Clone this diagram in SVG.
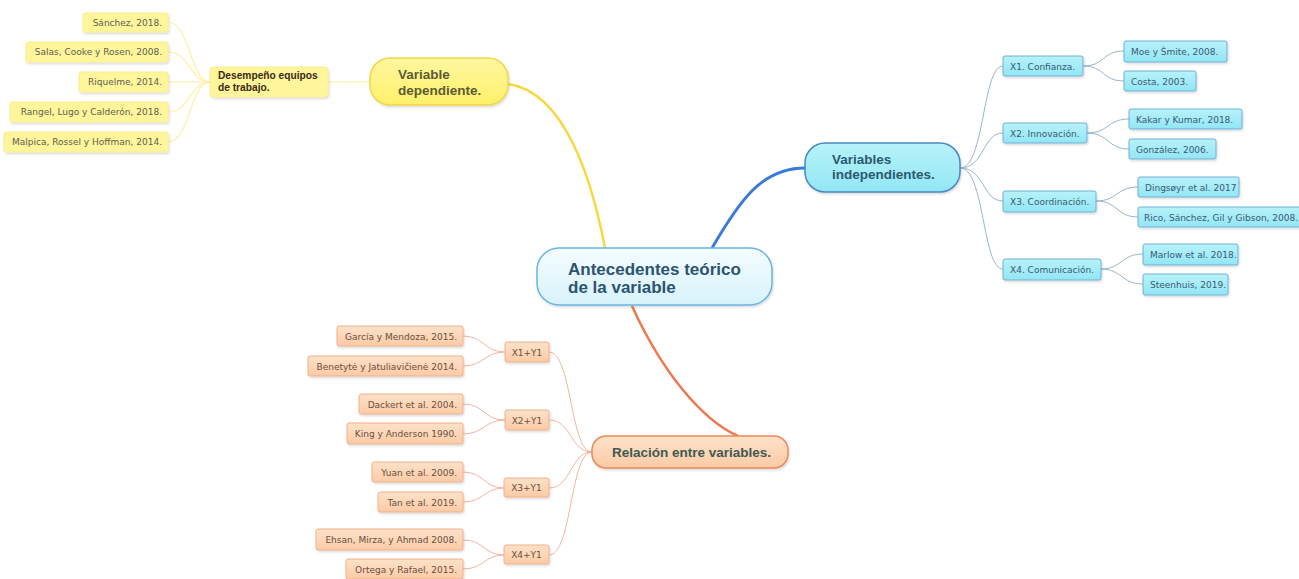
<svg xmlns="http://www.w3.org/2000/svg" width="1299" height="579" viewBox="0 0 1299 579">
<defs>
<linearGradient id="gc" x1="0" y1="0" x2="0" y2="1"><stop offset="0" stop-color="#f4fcff"/><stop offset="1" stop-color="#d8f3fb"/></linearGradient>
<linearGradient id="gy" x1="0" y1="0" x2="0" y2="1"><stop offset="0" stop-color="#fff7a0"/><stop offset="1" stop-color="#fff06a"/></linearGradient>
<linearGradient id="gb" x1="0" y1="0" x2="0" y2="1"><stop offset="0" stop-color="#b8f2fa"/><stop offset="1" stop-color="#92e6f4"/></linearGradient>
<linearGradient id="go" x1="0" y1="0" x2="0" y2="1"><stop offset="0" stop-color="#fde2c8"/><stop offset="1" stop-color="#fccaa6"/></linearGradient>
<filter id="sh" x="-10%" y="-20%" width="130%" height="160%"><feDropShadow dx="1" dy="1.5" stdDeviation="1" flood-color="#000" flood-opacity="0.15"/></filter>
</defs>
<style>
text{font-family:"DejaVu Sans","Liberation Sans",sans-serif}
.lf{font-size:9px}
.big{font-family:"Liberation Sans",Arial,sans-serif;font-weight:bold;font-size:13.5px}
.yl rect{fill:#fff59a;stroke:#fbee90;stroke-width:1}
.yl text{fill:#606050}
.bl rect{fill:url(#gb);stroke:#70b0d8;stroke-width:1}
.bl text{fill:#3a5a74}
.ol rect{fill:url(#go);stroke:#f2b08c;stroke-width:1}
.ol text{fill:#6a5044}
.c path{fill:none}
.cy{stroke:#fff0a0;stroke-width:1.2}
.cb{stroke:#9ab4c8;stroke-width:1}
.co{stroke:#f2b4a4;stroke-width:1}
</style>

<g id="connectors" class="c">
<path d="M508,84 C565,92 592,180 605,248" stroke="#f8d840" stroke-width="2.5"/>
<path d="M712,248 C740,200 762,168 805,168" stroke="#3a7ad8" stroke-width="3"/>
<path d="M632,306 C662,372 702,420 738,436" stroke="#f07850" stroke-width="2.5"/>
<path d="M328,82 L370,82" class="cy"/>
<path d="M168,22 C190,22 190,82 210,82" class="cy"/>
<path d="M168,52 C190,52 190,82 210,82" class="cy"/>
<path d="M168,82 L210,82" class="cy"/>
<path d="M168,112 C190,112 190,82 210,82" class="cy"/>
<path d="M168,142 C190,142 190,82 210,82" class="cy"/>
<path d="M960,168 C985,168 982,66 1003,66" class="cb"/>
<path d="M960,168 C985,168 982,133 1003,133" class="cb"/>
<path d="M960,168 C985,168 982,201 1003,201" class="cb"/>
<path d="M960,168 C985,168 982,269 1003,269" class="cb"/>
<path d="M1083,66 C1105,66 1102,51 1124,51" class="cb"/>
<path d="M1083,66 C1105,66 1102,81 1124,81" class="cb"/>
<path d="M1087,133 C1109,133 1107,119 1129,119" class="cb"/>
<path d="M1087,133 C1109,133 1107,149 1129,149" class="cb"/>
<path d="M1096,201 C1118,201 1116,187 1138,187" class="cb"/>
<path d="M1096,201 C1118,201 1116,217 1138,217" class="cb"/>
<path d="M1101,269 C1122,269 1121,254 1143,254" class="cb"/>
<path d="M1101,269 C1122,269 1121,284 1143,284" class="cb"/>
<path d="M592,452 C570,452 572,352 549,352" class="co"/>
<path d="M592,452 C570,452 572,420 549,420" class="co"/>
<path d="M592,452 C570,452 572,488 549,488" class="co"/>
<path d="M592,452 C570,452 572,555 549,555" class="co"/>
<path d="M505,352 C484,352 484,336 463,336" class="co"/>
<path d="M505,352 C484,352 484,366 463,366" class="co"/>
<path d="M505,420 C484,420 484,404 463,404" class="co"/>
<path d="M505,420 C484,420 484,434 463,434" class="co"/>
<path d="M504,488 C484,488 484,472 463,472" class="co"/>
<path d="M504,488 C484,488 484,502 463,502" class="co"/>
<path d="M504,555 C484,555 484,540 463,540" class="co"/>
<path d="M504,555 C484,555 484,569 463,569" class="co"/>
</g>

<g id="center">
<rect x="537" y="248" width="235" height="57" rx="22" fill="url(#gc)" stroke="#6ab4e4" stroke-width="1.5" filter="url(#sh)"/>
<text x="568" y="275" class="big" style="font-size:17px" fill="#2b5470">Antecedentes teórico</text>
<text x="568" y="293" class="big" style="font-size:17px" fill="#2b5470">de la variable</text>
</g>

<g id="var-dep">
<rect x="370" y="58" width="138" height="47" rx="20" fill="url(#gy)" stroke="#f2d64a" stroke-width="1.5" filter="url(#sh)"/>
<text x="398" y="79" class="big" fill="#5c5c34">Variable</text>
<text x="398" y="95" class="big" fill="#5c5c34">dependiente.</text>
</g>

<g id="desempeno" class="yl">
<rect x="210" y="67" width="118" height="30" rx="4" filter="url(#sh)"/>
<text x="218" y="79" style="font-family:'Liberation Sans',Arial,sans-serif;font-size:10.2px;font-weight:bold;fill:#3a2a14">Desempeño equipos</text>
<text x="218" y="91" style="font-family:'Liberation Sans',Arial,sans-serif;font-size:10.2px;font-weight:bold;fill:#3a2a14">de trabajo.</text>
</g>

<g id="y1" class="yl"><rect x="83" y="13" width="85" height="19" rx="2" filter="url(#sh)"/><text x="162" y="25.5" class="lf" text-anchor="end">Sánchez, 2018.</text></g>
<g id="y2" class="yl"><rect x="26" y="42" width="142" height="20" rx="2" filter="url(#sh)"/><text x="162" y="55" class="lf" text-anchor="end">Salas, Cooke y Rosen, 2008.</text></g>
<g id="y3" class="yl"><rect x="79" y="72" width="89" height="20" rx="2" filter="url(#sh)"/><text x="162" y="85" class="lf" text-anchor="end">Riquelme, 2014.</text></g>
<g id="y4" class="yl"><rect x="10" y="102" width="158" height="20" rx="2" filter="url(#sh)"/><text x="162" y="115" class="lf" text-anchor="end">Rangel, Lugo y Calderón, 2018.</text></g>
<g id="y5" class="yl"><rect x="4" y="132" width="164" height="20" rx="2" filter="url(#sh)"/><text x="162" y="145" class="lf" text-anchor="end">Malpica, Rossel y Hoffman, 2014.</text></g>

<g id="var-indep">
<rect x="805" y="143" width="155" height="49" rx="20" fill="url(#gb)" stroke="#4a88c0" stroke-width="1.5" filter="url(#sh)"/>
<text x="832" y="164" class="big" fill="#2b5a70">Variables</text>
<text x="832" y="179" class="big" fill="#2b5a70">independientes.</text>
</g>

<g id="x1" class="bl"><rect x="1003" y="56" width="80" height="20" rx="2" filter="url(#sh)"/><text x="1010" y="69.5" class="lf">X1. Confianza.</text></g>
<g id="x2" class="bl"><rect x="1003" y="123" width="84" height="20" rx="2" filter="url(#sh)"/><text x="1010" y="136.5" class="lf">X2. Innovación.</text></g>
<g id="x3" class="bl"><rect x="1003" y="191" width="93" height="21" rx="2" filter="url(#sh)"/><text x="1010" y="205" class="lf">X3. Coordinación.</text></g>
<g id="x4" class="bl"><rect x="1003" y="259" width="98" height="21" rx="2" filter="url(#sh)"/><text x="1010" y="273" class="lf">X4. Comunicación.</text></g>

<g id="b1" class="bl"><rect x="1124" y="41" width="103" height="21" rx="2" filter="url(#sh)"/><text x="1131" y="55" class="lf">Moe y Šmite, 2008.</text></g>
<g id="b2" class="bl"><rect x="1124" y="71" width="72" height="20" rx="2" filter="url(#sh)"/><text x="1131" y="84.5" class="lf">Costa, 2003.</text></g>
<g id="b3" class="bl"><rect x="1129" y="109" width="113" height="20" rx="2" filter="url(#sh)"/><text x="1136" y="122.5" class="lf">Kakar y Kumar, 2018.</text></g>
<g id="b4" class="bl"><rect x="1129" y="139" width="87" height="20" rx="2" filter="url(#sh)"/><text x="1136" y="152.5" class="lf">González, 2006.</text></g>
<g id="b5" class="bl"><rect x="1138" y="177" width="101" height="20" rx="2" filter="url(#sh)"/><text x="1145" y="190.5" class="lf">Dingsøyr et al. 2017</text></g>
<g id="b6" class="bl"><rect x="1138" y="207" width="164" height="20" rx="2" filter="url(#sh)"/><text x="1144" y="220.5" class="lf">Rico, Sánchez, Gil y Gibson, 2008.</text></g>
<g id="b7" class="bl"><rect x="1143" y="244" width="95" height="21" rx="2" filter="url(#sh)"/><text x="1150" y="258" class="lf">Marlow et al. 2018.</text></g>
<g id="b8" class="bl"><rect x="1143" y="274" width="85" height="21" rx="2" filter="url(#sh)"/><text x="1150" y="288" class="lf">Steenhuis, 2019.</text></g>

<g id="relacion">
<rect x="592" y="436" width="196" height="32" rx="14" fill="url(#go)" stroke="#f08858" stroke-width="1.5" filter="url(#sh)"/>
<text x="612" y="457" class="big" fill="#3e5a52">Relación entre variables.</text>
</g>

<g id="r1" class="ol"><rect x="505" y="342" width="44" height="20" rx="2" filter="url(#sh)"/><text x="527" y="355.5" class="lf" text-anchor="middle">X1+Y1</text></g>
<g id="r2" class="ol"><rect x="505" y="410" width="44" height="20" rx="2" filter="url(#sh)"/><text x="527" y="423.5" class="lf" text-anchor="middle">X2+Y1</text></g>
<g id="r3" class="ol"><rect x="504" y="478" width="45" height="19" rx="2" filter="url(#sh)"/><text x="526.5" y="491" class="lf" text-anchor="middle">X3+Y1</text></g>
<g id="r4" class="ol"><rect x="504" y="545" width="45" height="19" rx="2" filter="url(#sh)"/><text x="526.5" y="558" class="lf" text-anchor="middle">X4+Y1</text></g>

<g id="o1" class="ol"><rect x="337" y="326" width="126" height="20" rx="2" filter="url(#sh)"/><text x="457" y="339.5" class="lf" text-anchor="end">García y Mendoza, 2015.</text></g>
<g id="o2" class="ol"><rect x="308" y="356" width="155" height="20" rx="2" filter="url(#sh)"/><text x="457" y="369.5" class="lf" text-anchor="end">Benetytė y Jatuliavičienė 2014.</text></g>
<g id="o3" class="ol"><rect x="359" y="394" width="104" height="20" rx="2" filter="url(#sh)"/><text x="457" y="407.5" class="lf" text-anchor="end">Dackert et al. 2004.</text></g>
<g id="o4" class="ol"><rect x="347" y="423" width="116" height="21" rx="2" filter="url(#sh)"/><text x="457" y="437" class="lf" text-anchor="end">King y Anderson 1990.</text></g>
<g id="o5" class="ol"><rect x="372" y="462" width="91" height="20" rx="2" filter="url(#sh)"/><text x="457" y="475.5" class="lf" text-anchor="end">Yuan et al. 2009.</text></g>
<g id="o6" class="ol"><rect x="378" y="492" width="85" height="20" rx="2" filter="url(#sh)"/><text x="457" y="505.5" class="lf" text-anchor="end">Tan et al. 2019.</text></g>
<g id="o7" class="ol"><rect x="316" y="529" width="147" height="21" rx="2" filter="url(#sh)"/><text x="457" y="543" class="lf" text-anchor="end">Ehsan, Mirza, y Ahmad 2008.</text></g>
<g id="o8" class="ol"><rect x="346" y="559" width="117" height="20" rx="2" filter="url(#sh)"/><text x="457" y="572.5" class="lf" text-anchor="end">Ortega y Rafael, 2015.</text></g>
</svg>
